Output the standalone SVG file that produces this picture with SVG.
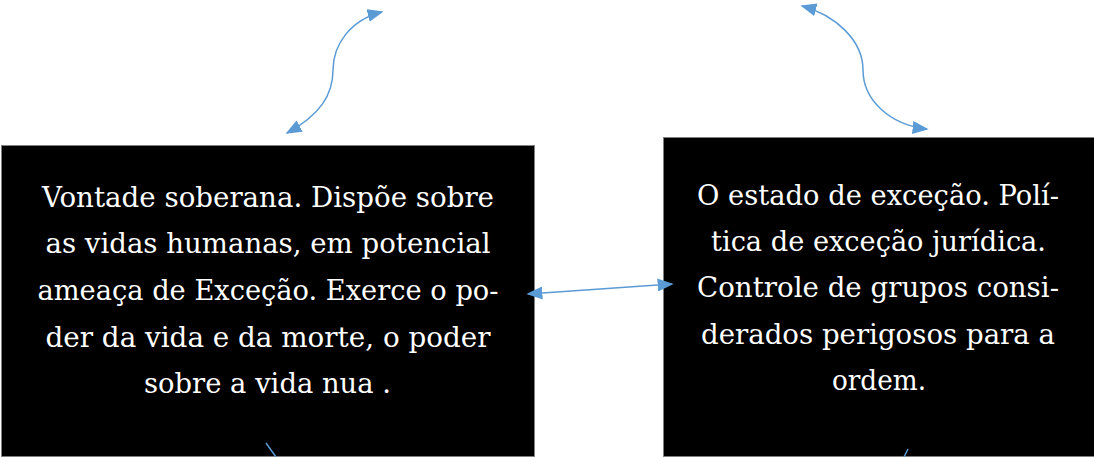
<svg xmlns="http://www.w3.org/2000/svg" width="1094" height="457" viewBox="0 0 1094 457">
<style>
.box{fill:#000;stroke:#7f7f7f;stroke-width:1}
.t{fill:#fff;font-family:"DejaVu Serif","Liberation Serif",serif;font-size:27px;text-anchor:middle}
.c{fill:none;stroke:#5b9bd5;stroke-width:1.5}
</style>
<defs>
<marker id="ah" viewBox="0 0 10 10" refX="9" refY="5" markerWidth="10" markerHeight="8" markerUnits="userSpaceOnUse" orient="auto-start-reverse" preserveAspectRatio="none">
<path d="M0,0 L10,5 L0,10 Z" fill="#5b9bd5"/>
</marker>
<marker id="ah2" viewBox="0 0 10 10" refX="9" refY="5" markerWidth="16" markerHeight="13" markerUnits="userSpaceOnUse" orient="auto-start-reverse" preserveAspectRatio="none">
<path d="M0,0 L10,5 L0,10 Z" fill="#5b9bd5"/>
</marker>
</defs>
<g id="node-soberana">
<rect class="box" x="1.5" y="145.5" width="533" height="311"/>
<text class="t" x="268" y="207" textLength="452" lengthAdjust="spacingAndGlyphs">Vontade soberana. Dispõe sobre</text>
<text class="t" x="268" y="253" textLength="445" lengthAdjust="spacingAndGlyphs">as vidas humanas, em potencial</text>
<text class="t" x="268" y="300" textLength="461" lengthAdjust="spacingAndGlyphs">ameaça de Exceção. Exerce o po-</text>
<text class="t" x="268" y="347" textLength="445" lengthAdjust="spacingAndGlyphs">der da vida e da morte, o poder</text>
<text class="t" x="267.5" y="393" textLength="247" lengthAdjust="spacingAndGlyphs">sobre a vida nua .</text>
</g>
<g id="node-excecao">
<rect class="box" x="663.5" y="137.5" width="431" height="319"/>
<text class="t" x="878" y="205" textLength="362" lengthAdjust="spacingAndGlyphs">O estado de exceção. Polí-</text>
<text class="t" x="878.5" y="251" textLength="335" lengthAdjust="spacingAndGlyphs">tica de exceção jurídica.</text>
<text class="t" x="878" y="297" textLength="362" lengthAdjust="spacingAndGlyphs">Controle de grupos consi-</text>
<text class="t" x="878" y="344" textLength="354" lengthAdjust="spacingAndGlyphs">derados perigosos para a</text>
<text class="t" x="879" y="390" textLength="94" lengthAdjust="spacingAndGlyphs">ordem.</text>
</g>
<g id="connectors">
<path class="c" d="M287,133 C320,115 333,95 333,70 C333,45 350,20 382,12" marker-start="url(#ah2)" marker-end="url(#ah2)"/>
<path class="c" d="M802,6 C835,15 863,40 863,70 C863,100 890,125 927,129" marker-start="url(#ah2)" marker-end="url(#ah2)"/>
<path class="c" d="M528,294 L672,284" marker-start="url(#ah2)" marker-end="url(#ah2)"/>
<path class="c" d="M266,443 L276,457"/>
<path class="c" d="M908,449 L904,457"/>
</g>
</svg>
